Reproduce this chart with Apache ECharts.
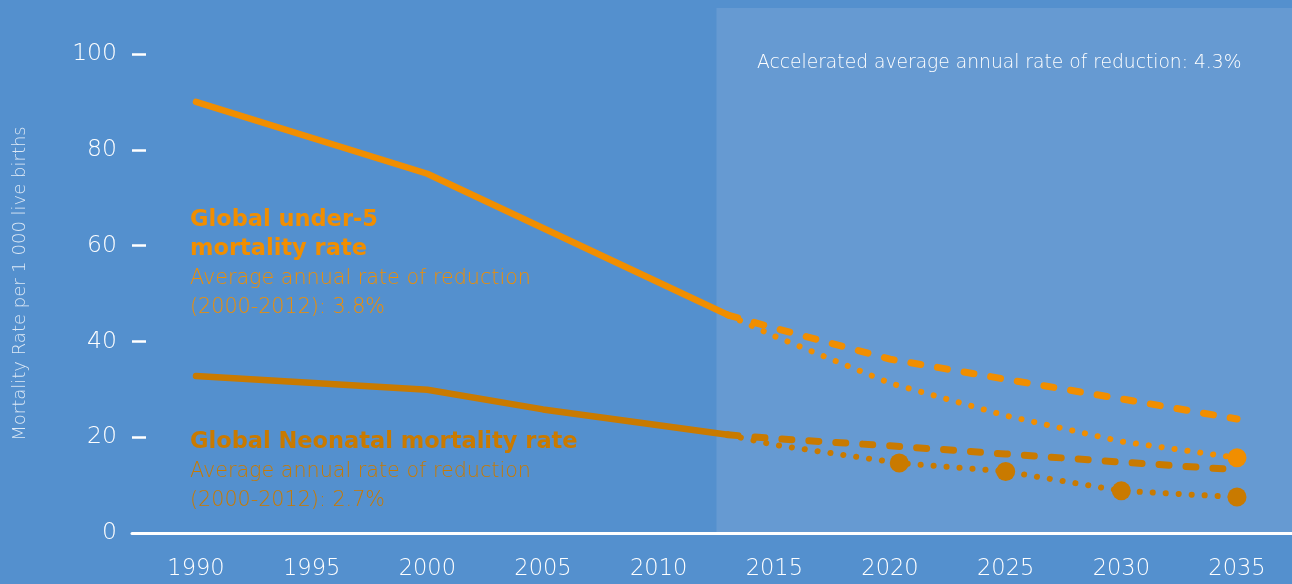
<!DOCTYPE html>
<html>
<head>
<meta charset="utf-8">
<script src="https://cdn.jsdelivr.net/npm/echarts@6/dist/echarts.min.js"></script>
<style>
html,body{margin:0;padding:0;background:#5490CE;}
#c{width:1292px;height:584px;}
</style>
</head>
<body>
<div id="c"></div>
<script>
// ---- Data ----
const xTickYears = [1990, 1995, 2000, 2005, 2010, 2015, 2020, 2025, 2030, 2035];
const yTicks = [0, 20, 40, 60, 80, 100];

const u5Observed    = [[1990, 90], [2000, 75], [2013, 45.5]];
const u5Current     = [[2013, 45.5], [2015, 42.8], [2020, 36.3], [2025, 32.1], [2030, 28.0], [2035, 23.8]];
const u5Accelerated = [[2013, 45.5], [2015, 41.1], [2020, 31.3], [2025, 24.5], [2030, 19.1], [2035, 15.7]];
const u5Markers     = [2035];

const nnObserved    = [[1990, 32.8], [2000, 29.9], [2005, 25.8], [2010, 22.5], [2013, 20.5]];
const nnCurrent     = [[2013, 20.5], [2015, 19.7], [2020, 18.2], [2025, 16.5], [2030, 14.8], [2035, 13.2]];
const nnAccelerated = [[2013, 20.5], [2015, 18.4], [2020.4, 14.6], [2025, 12.85], [2030, 8.8], [2035, 7.5]];
const nnMarkers     = [2020.4, 2025, 2030, 2035];

const accelStart = 2012.5;
const headerText = 'Accelerated average annual rate of reduction: 4.3%';
const yTitle = 'Mortality Rate per 1 000 live births';
const u5Label = ['Global under-5', 'mortality rate', 'Average annual rate of reduction', '(2000-2012): 3.8%'];
const nnLabel = ['Global Neonatal mortality rate', 'Average annual rate of reduction', '(2000-2012): 2.7%'];

// ---- Styles ----
const U5 = '#F18E00';
const NN = '#C97A00';
const FONT = 'DejaVu Sans';

const chart = echarts.init(document.getElementById('c'), null, {renderer: 'canvas'});

function markerSize(list) {
  return function (val) { return list.indexOf(val[0]) >= 0 ? 19 : 0; };
}

const option = {
  backgroundColor: '#5490CE',
  animation: false,
  grid: [
    {left: 196, right: 55, top: 54, bottom: 51},
    {left: 132, right: 0, top: 54, bottom: 51}
  ],
  xAxis: [
    {
      type: 'value', gridIndex: 0, min: xTickYears[0], max: xTickYears[xTickYears.length - 1], interval: 5,
      axisLine: {show: false}, axisTick: {show: false}, splitLine: {show: false},
      axisLabel: {color: '#fff', fontSize: 22.5, fontFamily: FONT, fontWeight: 200, margin: 25, formatter: v => String(v)}
    },
    {
      type: 'value', gridIndex: 1, min: 0, max: 1,
      axisLine: {show: true, lineStyle: {color: '#fff', width: 3}},
      axisTick: {show: false}, axisLabel: {show: false}, splitLine: {show: false}
    }
  ],
  yAxis: [
    {
      type: 'value', gridIndex: 0, min: yTicks[0], max: yTicks[yTicks.length - 1], interval: 20,
      axisLine: {show: false}, axisTick: {show: false}, axisLabel: {show: false}, splitLine: {show: false}
    },
    {
      type: 'value', gridIndex: 1, min: yTicks[0], max: yTicks[yTicks.length - 1], interval: 20,
      axisLine: {show: false},
      axisTick: {show: true, inside: true, length: 14, lineStyle: {color: '#fff', width: 2.5}},
      axisLabel: {color: '#fff', fontSize: 23.5, fontFamily: FONT, fontWeight: 200, margin: 15,
        formatter: v => (yTicks.indexOf(v) >= 0 ? String(v) : '')},
      splitLine: {show: false},
      name: yTitle, nameLocation: 'middle', nameGap: 103, nameRotate: 90,
      nameTextStyle: {color: 'rgba(235,242,250,0.9)', fontSize: 18, fontFamily: FONT, fontWeight: 200,
        padding: [0, 0, 0, 20]}
    }
  ],
  series: [
    {
      name: 'U5 observed', type: 'line', xAxisIndex: 0, yAxisIndex: 0, data: u5Observed,
      showSymbol: false, lineStyle: {color: U5, width: 6.5, cap: 'round', join: 'round'}, z: 5
    },
    {
      name: 'U5 current', type: 'line', xAxisIndex: 0, yAxisIndex: 0, data: u5Current,
      showSymbol: false, lineStyle: {color: U5, width: 7, type: [10, 17], cap: 'round'}, z: 4
    },
    {
      name: 'U5 accelerated', type: 'line', xAxisIndex: 0, yAxisIndex: 0, data: u5Accelerated,
      symbol: 'circle', showAllSymbol: true, symbolSize: markerSize(u5Markers), itemStyle: {color: U5},
      lineStyle: {color: U5, width: 6, type: [0.1, 12.9], cap: 'round'}, z: 4
    },
    {
      name: 'NN observed', type: 'line', xAxisIndex: 0, yAxisIndex: 0, data: nnObserved,
      showSymbol: false, lineStyle: {color: NN, width: 6.5, cap: 'round', join: 'round'}, z: 5
    },
    {
      name: 'NN current', type: 'line', xAxisIndex: 0, yAxisIndex: 0, data: nnCurrent,
      showSymbol: false, lineStyle: {color: NN, width: 7, type: [10, 17], cap: 'round'}, z: 4
    },
    {
      name: 'NN accelerated', type: 'line', xAxisIndex: 0, yAxisIndex: 0, data: nnAccelerated,
      symbol: 'circle', showAllSymbol: true, symbolSize: markerSize(nnMarkers), itemStyle: {color: NN},
      lineStyle: {color: NN, width: 6, type: [0.1, 12.9], cap: 'round'}, z: 4
    }
  ]
};

chart.setOption(option);

// Shaded "accelerated" region and annotations, positioned through the axes' scales
const xShade = chart.convertToPixel({xAxisIndex: 0}, accelStart);
const yZero = chart.convertToPixel({yAxisIndex: 0}, 0);
const W = chart.getWidth();

chart.setOption({
  graphic: [
    {
      type: 'rect', z: -10, silent: true,
      shape: {x: xShade, y: 8, width: W - xShade, height: yZero - 8},
      style: {fill: '#669AD2'}
    },
    {
      type: 'text', left: 757, top: 54, z: 10,
      style: {text: headerText, fill: '#fff', font: '200 18.7px "DejaVu Sans"'}
    },
    {
      type: 'text', left: 190, top: 209, z: 10,
      style: {
        text: '{b|' + u5Label[0] + '}\n{b|' + u5Label[1] + '}\n{n|' + u5Label[2] + '}\n{n|' + u5Label[3] + '}',
        rich: {
          b: {fill: U5, fontSize: 22.5, fontWeight: 'bold', fontFamily: FONT, lineHeight: 29},
          n: {fill: U5, fontSize: 20.7, fontWeight: 200, fontFamily: FONT, lineHeight: 29}
        }
      }
    },
    {
      type: 'text', left: 190, top: 431, z: 10,
      style: {
        text: '{b|' + nnLabel[0] + '}\n{n|' + nnLabel[1] + '}\n{n|' + nnLabel[2] + '}',
        rich: {
          b: {fill: NN, fontSize: 22.5, fontWeight: 'bold', fontFamily: FONT, lineHeight: 29},
          n: {fill: NN, fontSize: 20.7, fontWeight: 200, fontFamily: FONT, lineHeight: 29}
        }
      }
    }
  ]
});
</script>
</body>
</html>
